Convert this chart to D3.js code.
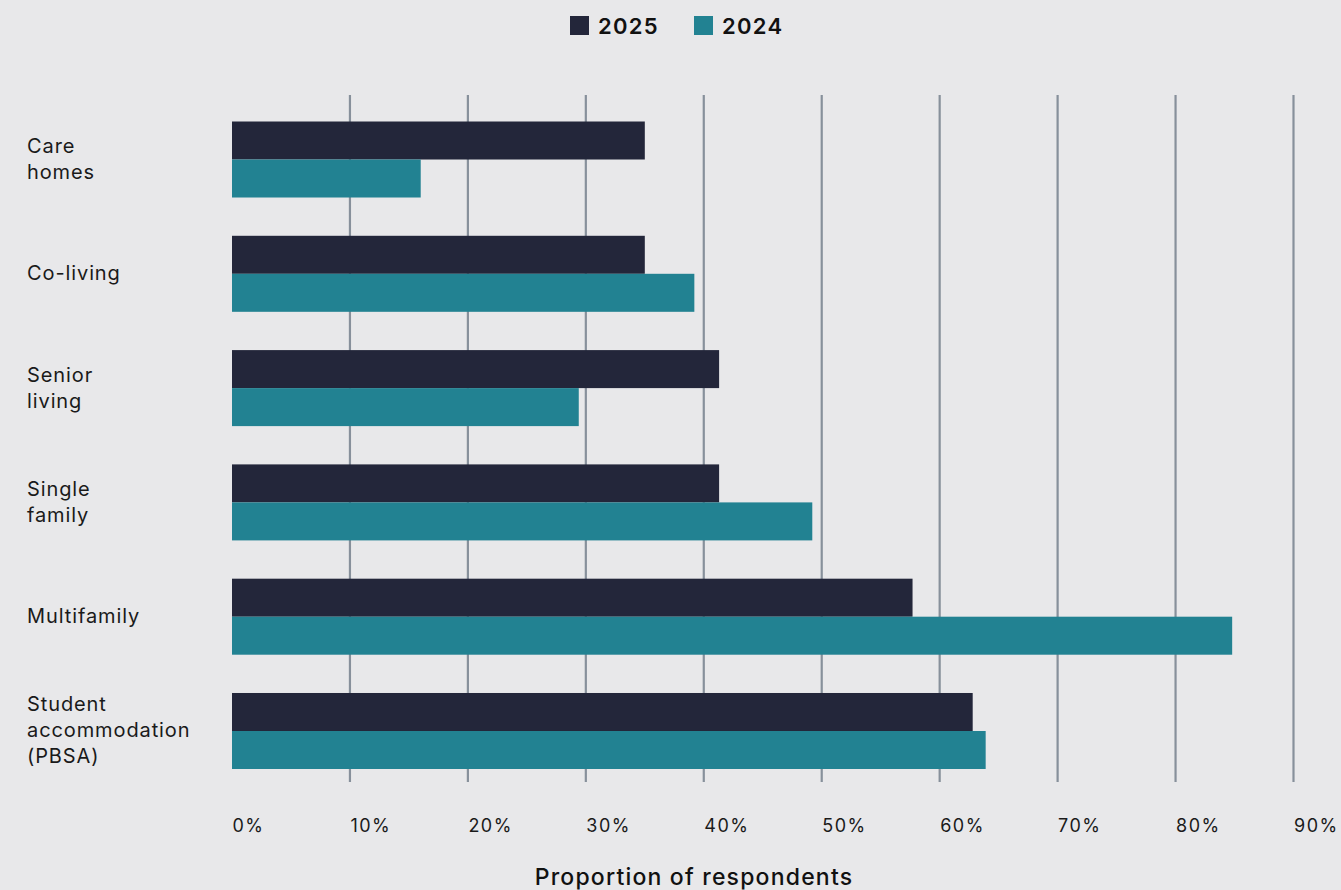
<!DOCTYPE html>
<html>
<head>
<meta charset="utf-8">
<script src="https://cdn.jsdelivr.net/npm/d3@7"></script>
<style>
  html, body { margin: 0; padding: 0; background: #e8e8ea; }
  svg { display: block; font-family: Inter, "Noto Sans", sans-serif; }
</style>
</head>
<body>
<svg id="chart" width="1341" height="890"></svg>
<script>
// Residential sectors, top to bottom
const categories = [
  ["Care", "homes"],
  ["Co-living"],
  ["Senior", "living"],
  ["Single", "family"],
  ["Multifamily"],
  ["Student", "accommodation", "(PBSA)"]
];
const seriesNames = ["2025", "2024"];
const values2025 = [35, 35, 41.3, 41.3, 57.7, 62.8];
const values2024 = [16, 39.2, 29.4, 49.2, 84.8, 63.9];
const tickValues = [0, 10, 20, 30, 40, 50, 60, 70, 80, 90];
const colors = ["#23263a", "#228292"];

const svg = d3.select("#chart");
const keys = categories.map(c => c.join(" "));

const x = d3.scaleLinear().domain([0, 90]).range([232, 1293.5]);
const y = d3.scaleBand().domain(keys).range([121.5, 769]).paddingInner(0.335).paddingOuter(0);
const ySub = d3.scaleBand().domain(seriesNames).range([0, y.bandwidth()]);

// vertical gridlines
const gridTop = 95, gridBottom = 782;
svg.append("g")
  .selectAll("line")
  .data(tickValues.filter(d => d > 0))
  .join("line")
  .attr("x1", d => x(d)).attr("x2", d => x(d))
  .attr("y1", gridTop).attr("y2", gridBottom)
  .attr("stroke", "#87909b")
  .attr("stroke-width", 2.2);

// tick labels, left-aligned on each tick
const axis = d3.axisBottom(x).tickValues(tickValues).tickFormat(d => d + "%").tickSize(0);
const axisG = svg.append("g").attr("transform", `translate(0,${818})`).call(axis);
axisG.select(".domain").remove();
axisG.selectAll("text")
  .attr("text-anchor", "start")
  .attr("dy", 0)
  .attr("y", 14)
  .attr("fill", "#1a1a1a")
  .style("font-size", "18px")
  .style("letter-spacing", "1.5px")
  .style("font-family", "Inter, 'Noto Sans', sans-serif");

// bars
const groups = svg.append("g")
  .selectAll("g")
  .data(keys.map((k, i) => ({ key: k, vals: [values2025[i], values2024[i]] })))
  .join("g")
  .attr("transform", d => `translate(0,${y(d.key)})`);

groups.selectAll("rect")
  .data(d => d.vals.map((v, j) => ({ name: seriesNames[j], v, j })))
  .join("rect")
  .attr("x", x(0))
  .attr("y", d => ySub(d.name))
  .attr("width", d => x(d.v) - x(0))
  .attr("height", ySub.bandwidth())
  .attr("fill", d => colors[d.j]);

// category labels
const lineH = 26;
svg.append("g")
  .selectAll("text")
  .data(categories)
  .join("text")
  .attr("x", 27)
  .attr("y", (d, i) => y(keys[i]) + y.bandwidth() / 2 - (d.length - 1) * lineH / 2 + 6.5)
  .attr("fill", "#1a1a1a")
  .style("font-size", "20px")
  .style("letter-spacing", "0.9px")
  .each(function(d) {
    const t = d3.select(this);
    d.forEach((line, k) => {
      t.append("tspan").attr("x", 27).attr("dy", k === 0 ? 0 : lineH).text(line);
    });
  });

// axis title
svg.append("text")
  .attr("x", 694)
  .attr("y", 885)
  .attr("text-anchor", "middle")
  .attr("fill", "#111")
  .style("font-size", "23px")
  .style("letter-spacing", "1.2px")
  .style("font-weight", "500")
  .text("Proportion of respondents");

// legend
const legendX = [570, 694];
const legend = svg.append("g")
  .selectAll("g")
  .data(seriesNames)
  .join("g")
  .attr("transform", (d, i) => `translate(${legendX[i]},16)`);
legend.append("rect").attr("width", 19).attr("height", 19).attr("fill", (d, i) => colors[i]);
legend.append("text")
  .attr("x", 28).attr("y", 18)
  .attr("fill", "#111")
  .style("font-size", "22px")
  .style("letter-spacing", "1.3px")
  .style("font-weight", "600")
  .text(d => d);
</script>
</body>
</html>
